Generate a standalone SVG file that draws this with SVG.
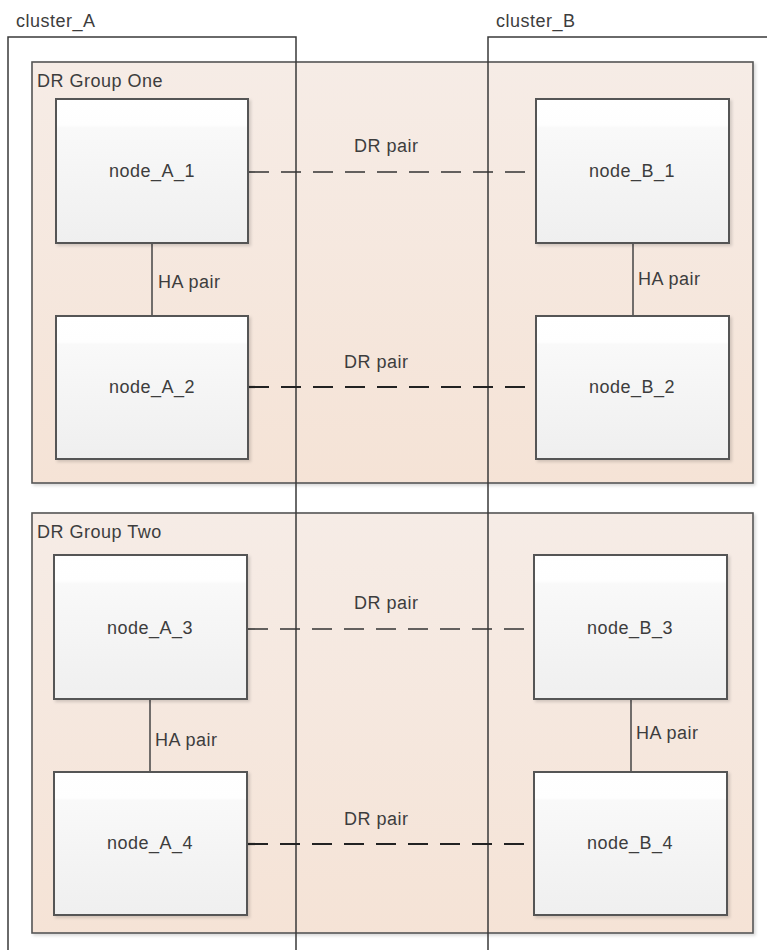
<svg xmlns="http://www.w3.org/2000/svg" width="767" height="950" viewBox="0 0 767 950">
<defs>
<linearGradient id="grpGrad" x1="0" y1="0" x2="0" y2="1">
<stop offset="0" stop-color="#f6ece6"/>
<stop offset="1" stop-color="#f5e3d6"/>
</linearGradient>
<linearGradient id="nodeGrad" x1="0" y1="0" x2="0" y2="1">
<stop offset="0" stop-color="#ffffff"/>
<stop offset="0.18" stop-color="#fefefe"/>
<stop offset="0.2" stop-color="#f9f9f9"/>
<stop offset="1" stop-color="#efefef"/>
</linearGradient>
<filter id="shadow" x="-5%" y="-5%" width="115%" height="115%">
<feDropShadow dx="2" dy="2" stdDeviation="1.5" flood-color="#000" flood-opacity="0.15"/>
</filter>
</defs>
<style>
text { font-family: "Liberation Sans", Arial, sans-serif; font-size: 18px; letter-spacing: 0.5px; fill: #3d3d3d; }
.grp { fill: url(#grpGrad); stroke: #555; stroke-width: 1.6; filter: url(#shadow); }
.node rect { fill: url(#nodeGrad); stroke: #555; stroke-width: 2; filter: url(#shadow); }
.node text { text-anchor: middle; }
.cluster { fill: none; stroke: #3a3a3a; stroke-width: 1.5; }
.ha { stroke: #444; stroke-width: 1.5; fill: none; }
.dr { stroke: #333; stroke-width: 1.6; stroke-dasharray: 20 12; fill: none; }
.dr2 { stroke: #222; stroke-width: 2.2; stroke-dasharray: 20 12; fill: none; }
</style>
<rect width="767" height="950" fill="#ffffff"/>

<g id="dr_group_one">
<rect class="grp" x="32" y="62" width="721" height="421"/>
<text x="37" y="87">DR Group One</text>
</g>
<g id="dr_group_two">
<rect class="grp" x="32" y="513" width="721" height="420"/>
<text x="37" y="538">DR Group Two</text>
</g>

<g id="cluster_A">
<path class="cluster" d="M8,952 V37 H296 V952"/>
<text x="16" y="27">cluster_A</text>
</g>
<g id="cluster_B">
<path class="cluster" d="M488,952 V37 H770"/>
<text x="496" y="27">cluster_B</text>
</g>

<g id="connectors">
<line class="ha" x1="152" y1="243" x2="152" y2="316"/>
<line class="ha" x1="633" y1="243" x2="633" y2="316"/>
<line class="ha" x1="150" y1="699" x2="150" y2="772"/>
<line class="ha" x1="631" y1="699" x2="631" y2="772"/>
<line class="dr" x1="249" y1="172" x2="536" y2="172"/>
<line class="dr2" x1="249" y1="387" x2="536" y2="387"/>
<line class="dr" x1="248" y1="629" x2="534" y2="629"/>
<line class="dr2" x1="248" y1="844" x2="534" y2="844"/>
<text x="354" y="152">DR pair</text>
<text x="344" y="368">DR pair</text>
<text x="354" y="609">DR pair</text>
<text x="344" y="825">DR pair</text>
<text x="158" y="288">HA pair</text>
<text x="638" y="285">HA pair</text>
<text x="155" y="746">HA pair</text>
<text x="636" y="739">HA pair</text>
</g>

<g id="node_A_1" class="node"><rect x="56" y="99" width="192" height="144"/><text x="152" y="177">node_A_1</text></g>
<g id="node_A_2" class="node"><rect x="56" y="316" width="192" height="143"/><text x="152" y="393">node_A_2</text></g>
<g id="node_B_1" class="node"><rect x="536" y="99" width="193" height="144"/><text x="632" y="177">node_B_1</text></g>
<g id="node_B_2" class="node"><rect x="536" y="316" width="193" height="143"/><text x="632" y="393">node_B_2</text></g>
<g id="node_A_3" class="node"><rect x="54" y="555" width="193" height="144"/><text x="150" y="634">node_A_3</text></g>
<g id="node_A_4" class="node"><rect x="54" y="772" width="193" height="143"/><text x="150" y="849">node_A_4</text></g>
<g id="node_B_3" class="node"><rect x="534" y="555" width="193" height="144"/><text x="630" y="634">node_B_3</text></g>
<g id="node_B_4" class="node"><rect x="534" y="772" width="193" height="143"/><text x="630" y="849">node_B_4</text></g>
</svg>
